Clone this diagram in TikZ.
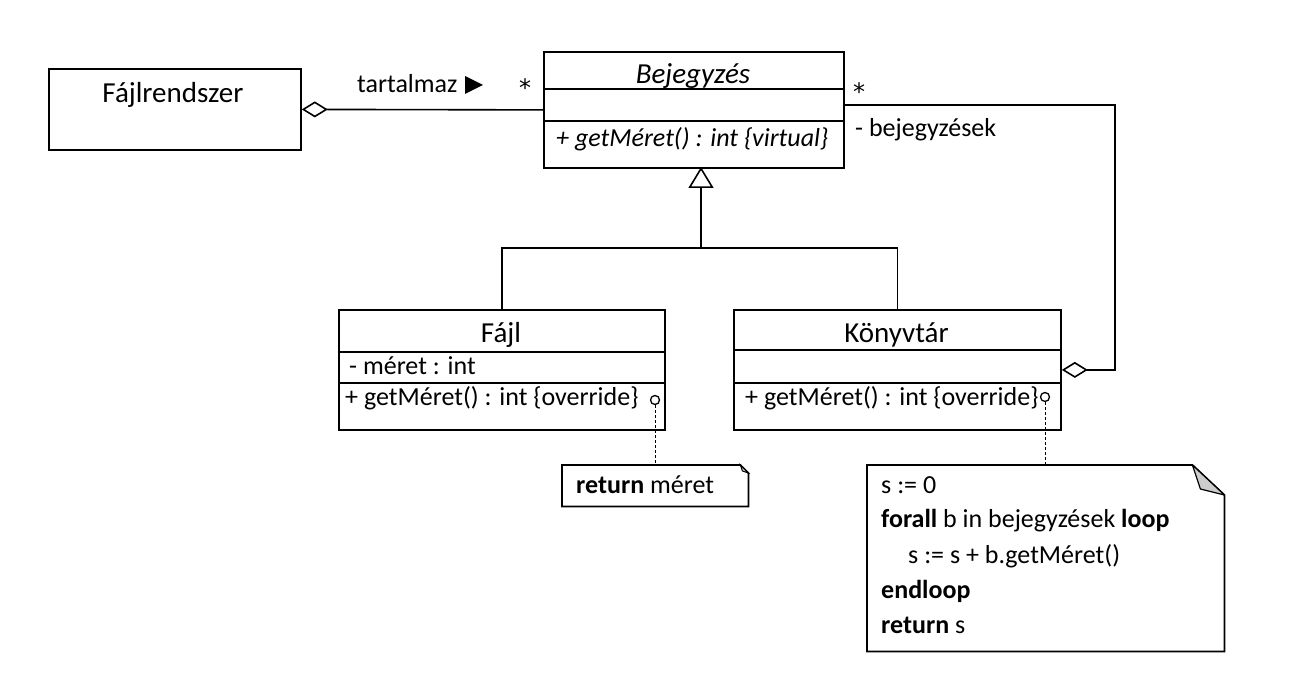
\documentclass[tikz,border=0pt]{standalone}
\usepackage{fontspec}
\setmainfont{Carlito}
\newfontfamily\starfont{DejaVu Sans}
\usetikzlibrary{arrows.meta,calc}
\begin{document}
\begin{tikzpicture}[x=1pt,y=-1pt,
  cls/.style={draw, line width=1.8pt, rectangle, inner sep=0pt, anchor=north west},
  txt/.style={inner sep=0pt, anchor=base west, font=\fontsize{26}{31}\selectfont},
  ttl/.style={inner sep=0pt, anchor=base, font=\fontsize{29}{34}\selectfont},
  startxt/.style={inner sep=0pt, anchor=base, font=\starfont\fontsize{24}{28}\selectfont},
  lnk/.style={line width=1.6pt},
  divider/.style={line width=1.8pt},
  lolli/.style={circle, draw, line width=1.3pt, inner sep=0pt, minimum size=9pt, fill=white},
  anchorline/.style={line width=0.8pt, dash pattern=on 3pt off 2pt},
  agg/.style={lnk, {Diamond[open, length=26pt, width=16pt, line width=1.6pt]}-},
  gen/.style={lnk, -{Triangle[open, length=21pt, width=25pt, line width=1.6pt]}},
  notebox/.style={rectangle, inner sep=0pt, anchor=north west},
  noteline/.style={line width=1.8pt, line join=miter}
]
\useasboundingbox (0,0) rectangle (1290,692);

% Fájlrendszer
\node[cls, minimum width=252pt, minimum height=81pt] (fs) at (48,68) {};
\node[ttl] (fsname) at (173,102.5) {Fájlrendszer};

% Bejegyzés
\node[cls, minimum width=300pt, minimum height=116pt] (bej) at (543,51) {};
\draw[divider] (bej.west |- 0,89) -- (bej.east |- 0,89);
\draw[divider] (bej.west |- 0,121) -- (bej.east |- 0,121);
\node[ttl, font=\fontsize{29}{34}\selectfont\itshape] (bejname) at (693,83.5) {Bejegyzés};
\node[txt, font=\fontsize{26}{31}\selectfont\itshape] (bejop) at (556,147) {+ getMéret() : int \{virtual\}};

% Fájl
\node[cls, minimum width=326pt, minimum height=120pt] (fajl) at (338,309) {};
\draw[divider] (fajl.west |- 0,352) -- (fajl.east |- 0,352);
\draw[divider] (fajl.west |- 0,383) -- (fajl.east |- 0,383);
\node[ttl] (fajlname) at (501,343) {Fájl};
\node[txt] (fajlattr) at (349,374) {- méret : int};
\node[txt] (fajlop) at (345,406) {+ getMéret() : int \{override\}};

% Könyvtár
\node[cls, minimum width=327pt, minimum height=120pt] (konyv) at (733,309) {};
\draw[divider] (konyv.west |- 0,350) -- (konyv.east |- 0,350);
\draw[divider] (konyv.west |- 0,383) -- (konyv.east |- 0,383);
\node[ttl] (konyvname) at (896.5,343) {Könyvtár};
\node[txt] (konyvop) at (745,405) {+ getMéret() : int \{override\}};

% association Fájlrendszer -- Bejegyzés
\draw[agg] (fs.east) -- (bej.west);
\node[txt] (tartlbl) at (357,93) {tartalmaz};
\fill (465,76) -- (483,85) -- (465,94) -- cycle;
\node[startxt] (star1) at (525,97) {*};

% aggregation Könyvtár -- Bejegyzés
\coordinate (rc) at (1115,105);
\draw[agg] (konyv.east) -- (konyv.east -| rc) -- (rc) -- (bej.east |- rc);
\node[startxt] (star2) at (859,101) {*};
\node[txt] (bejlbl) at (855,137) {- bejegyzések};

% generalization
\coordinate (apex) at (701,167);
\coordinate (junc) at (701,248);
\draw[lnk] (fajl.north) |- (junc) -| (konyv.north);
\draw[gen] (junc) -- (apex);

% lollipops
\node[lolli] (c1) at (655,400) {};
\node[lolli] (c2) at (1045,397) {};

% note: return méret
\node[notebox, minimum width=186pt, minimum height=41pt] (note1) at (562,465) {};
\draw[noteline] (note1.north west) -- ($(note1.north east)+(-8,0)$) -- ($(note1.north east)+(0,8)$) -- (note1.south east) -- (note1.south west) -- cycle;
\draw[line width=1pt, fill=gray!40] ($(note1.north east)+(-8,0)$) -- ($(note1.north east)+(-6,6)$) -- ($(note1.north east)+(0,8)$) -- cycle;
\node[txt] (n1text) at (576,493) {\textbf{return} méret};
\draw[anchorline] (c1) -- (c1 |- note1.north);

% note: algorithm
\node[notebox, minimum width=357pt, minimum height=186pt] (note2) at (867,465) {};
\draw[noteline] (note2.north west) -- ($(note2.north east)+(-32,0)$) -- ($(note2.north east)+(0,30)$) -- (note2.south east) -- (note2.south west) -- cycle;
\draw[line width=1.2pt, fill=gray!40, line join=round] ($(note2.north east)+(-32,0)$) -- ($(note2.north east)+(-24,24)$) -- ($(note2.north east)+(0,30)$) -- cycle;
\draw[anchorline] (c2) -- (c2 |- note2.north);
\node[txt] (l1) at (881,493) {s := 0};
\node[txt] (l2) at (881,527) {\textbf{forall} b in bejegyzések \textbf{loop}};
\node[txt] (l3) at (908,563) {s := s + b.getMéret()};
\node[txt] (l4) at (881,598) {\textbf{endloop}};
\node[txt] (l5) at (881,633) {\textbf{return} s};
\end{tikzpicture}
\end{document}
